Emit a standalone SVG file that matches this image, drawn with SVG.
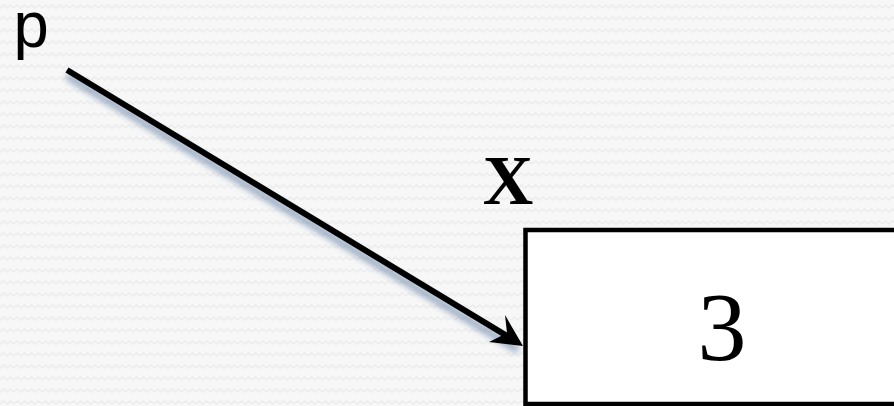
<svg xmlns="http://www.w3.org/2000/svg" width="894" height="406" viewBox="0 0 894 406">
<style>
.lbl{fill:#000}
.mono{font-family:"Liberation Mono","Courier New",monospace}
.serif{font-family:"Liberation Serif","Times New Roman",serif}
.edge{stroke:#000;stroke-width:6;fill:none;stroke-linecap:butt}
.box{fill:#fff;stroke:#000;stroke-width:4.5}
</style>
<defs>
<pattern id="bg" width="14" height="12" patternUnits="userSpaceOnUse">
<rect width="14" height="12" fill="#f7f7f7"/>
<path d="M0 8 L3.5 5 L7 8 L10.5 5 L14 8" fill="none" stroke="#ececec" stroke-width="1.5"/>
</pattern>
<filter id="sh" x="-10%" y="-10%" width="120%" height="130%">
<feGaussianBlur stdDeviation="3"/>
</filter>
</defs>
<rect width="894" height="406" fill="url(#bg)"/>
<g id="connectors">
<g filter="url(#sh)" opacity="0.55">
<path d="M67 76 L518 350" stroke="#4a6a95" stroke-width="7" fill="none"/>
</g>
<path class="edge" d="M67 70 L512 339"/>
<polygon points="523,346 505,315 507,333 489,342" fill="#000"/>
</g>
<g id="label-p"><text class="lbl mono" x="12" y="47" font-size="64">p</text></g>
<g id="node-x">
<text class="lbl serif" x="508" y="204" font-size="70" font-weight="bold" text-anchor="middle">X</text>
<rect class="box" x="525.5" y="230" width="380" height="174"/>
<text class="lbl serif" x="722" y="360" font-size="98" text-anchor="middle">3</text>
</g>
</svg>
